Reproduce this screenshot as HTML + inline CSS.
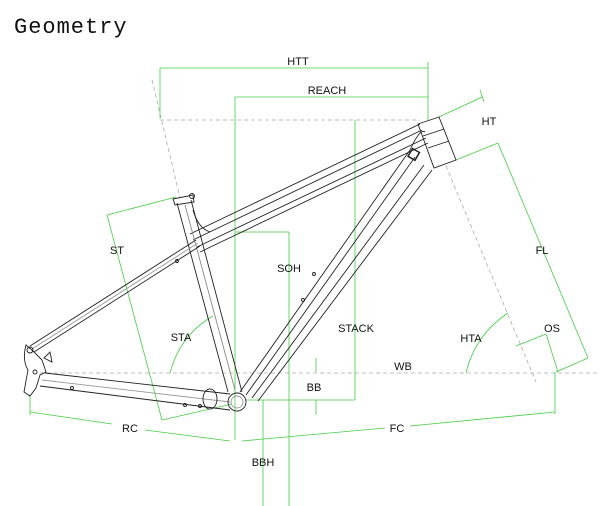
<!DOCTYPE html>
<html><head><meta charset="utf-8"><style>
html,body{margin:0;padding:0;background:#fff;width:612px;height:506px;overflow:hidden}
svg{display:block}
text{font-family:"Liberation Sans",sans-serif;font-size:11px;fill:#111}
</style></head><body>
<svg width="612" height="506" viewBox="0 0 612 506">
<text x="14" y="33" style="font-family:'Liberation Mono',monospace;font-size:22px;letter-spacing:1px">Geometry</text>

<g stroke="#aaa" stroke-width="0.8" stroke-dasharray="4,3" fill="none">
<line x1="152" y1="80" x2="180" y2="198"/>
<line x1="160" y1="120" x2="420" y2="120"/>
<line x1="40" y1="373" x2="600" y2="373"/>
<line x1="446" y1="166" x2="536" y2="382"/>
</g>

<g stroke="#44cc44" stroke-width="0.8" fill="none">
<line x1="160" y1="68" x2="428" y2="68"/>
<line x1="160" y1="68" x2="160" y2="118"/>
<line x1="428" y1="62" x2="428" y2="122"/>
<line x1="235" y1="97" x2="428" y2="97"/>
<line x1="235" y1="97" x2="235" y2="440"/>
<line x1="355" y1="120" x2="355" y2="400"/>
<line x1="245" y1="400" x2="355" y2="400"/>
<line x1="235" y1="232" x2="289" y2="232"/>
<line x1="289" y1="232" x2="289" y2="506"/>
<line x1="263" y1="400" x2="263" y2="506"/>
<line x1="316" y1="358" x2="316" y2="372"/>
<line x1="316" y1="400" x2="316" y2="415"/>
<line x1="107" y1="215" x2="176" y2="197"/>
<line x1="107" y1="215" x2="162" y2="420"/>
<line x1="162" y1="420" x2="232" y2="404"/>
<path d="M213 316 Q180 335 170 373"/>
<line x1="30" y1="395" x2="30" y2="415"/>
<line x1="30" y1="412" x2="112" y2="424"/>
<line x1="145" y1="430" x2="230" y2="441"/>
<line x1="242" y1="441" x2="385" y2="428"/>
<line x1="410" y1="426" x2="555" y2="412"/>
<line x1="555" y1="372" x2="555" y2="414"/>
<path d="M508 313 Q475 335 466 373"/>
<line x1="439" y1="117" x2="482" y2="97"/>
<line x1="480" y1="90" x2="484" y2="102"/>
<line x1="456" y1="160" x2="498" y2="143"/>
<line x1="498" y1="143" x2="588" y2="358"/>
<line x1="588" y1="358" x2="556" y2="372"/>
<line x1="516" y1="346" x2="546" y2="334"/>
<line x1="546" y1="334" x2="558" y2="372"/>
</g>

<g stroke="#222" stroke-width="0.9" fill="none">
<polygon points="418,124 439,117 456,160 434,168" fill="#fff"/>
<line x1="423" y1="136" x2="444" y2="129"/>
<line x1="428" y1="148" x2="449" y2="141"/>
<line x1="190" y1="234" x2="420" y2="124"/>
<line x1="193" y1="240" x2="422" y2="130"/>
<line x1="197" y1="247" x2="426" y2="138"/>
<line x1="200" y1="252" x2="428" y2="143"/>
<line x1="240" y1="392" x2="410" y2="150"/>
<line x1="246" y1="395" x2="415" y2="157"/>
<line x1="252" y1="398" x2="424" y2="165"/>
<line x1="258" y1="401" x2="432" y2="170"/>
<path d="M410 150 Q420 128 425 132"/>
<rect x="410" y="150" width="8" height="9" transform="rotate(30 414 154)" stroke-width="1.5"/>
<line x1="177" y1="203" x2="228" y2="392"/>
<line x1="191" y1="200" x2="242" y2="392"/>
<line x1="185" y1="205" x2="235" y2="390" stroke="#888"/>
<polygon points="173,199 193,195 194,202 175,205"/>
<circle cx="192" cy="196" r="2.5"/>
<path d="M193 210 Q198 228 210 232"/>
<line x1="196" y1="240" x2="30" y2="346"/>
<line x1="200" y1="246" x2="34" y2="352"/>
<line x1="198" y1="243" x2="32" y2="349" stroke="#999"/>
<line x1="45" y1="373" x2="230" y2="394"/>
<line x1="40" y1="386" x2="230" y2="410"/>
<line x1="42" y1="380" x2="230" y2="402" stroke="#999"/>
<ellipse cx="210" cy="399" rx="7" ry="10"/>
<circle cx="237" cy="402" r="9"/>
<circle cx="237" cy="402" r="6" stroke="#999"/>
<path d="M26 345 Q22 360 28 370 L24 392 L30 396 L36 388 L40 375 L46 372 L42 360 L34 352 Z"/>
<circle cx="30" cy="350" r="3"/>
<circle cx="35" cy="372" r="2"/>
<path d="M44 358 L50 352 L52 362 Z"/>
<circle cx="72" cy="388" r="1.5"/><circle cx="185" cy="405" r="1.5"/><circle cx="200" cy="406" r="1.5"/>
<circle cx="177" cy="261" r="1.5"/><circle cx="303" cy="300" r="1.5"/><circle cx="314" cy="274" r="1.5"/>
</g>

<g text-anchor="middle">
<text x="298" y="65">HTT</text>
<text x="327" y="94">REACH</text>
<text x="489" y="125">HT</text>
<text x="117" y="254">ST</text>
<text x="289" y="272">SOH</text>
<text x="542" y="254">FL</text>
<text x="181" y="341">STA</text>
<text x="356" y="332">STACK</text>
<text x="471" y="342">HTA</text>
<text x="552" y="332">OS</text>
<text x="403" y="370">WB</text>
<text x="314" y="391">BB</text>
<text x="130" y="432">RC</text>
<text x="397" y="432">FC</text>
<text x="263" y="466">BBH</text>
</g>
</svg>
</body></html>
